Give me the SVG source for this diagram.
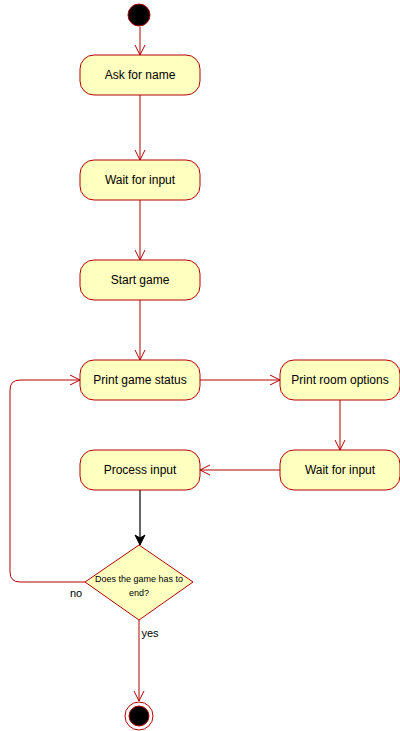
<svg xmlns="http://www.w3.org/2000/svg" width="400" height="731" viewBox="0 0 400 731">
<defs>
<marker id="open" markerWidth="12" markerHeight="12" viewBox="0 0 12 12" refX="11" refY="6" orient="auto" markerUnits="userSpaceOnUse">
<path d="M1,1 L11,6 L1,11" fill="none" stroke="#B20000" stroke-width="1"/>
</marker>
<marker id="solid" markerWidth="12" markerHeight="12" viewBox="0 0 12 12" refX="11" refY="6" orient="auto" markerUnits="userSpaceOnUse">
<path d="M1,1 L11,6 L1,11 L4,6 Z" fill="#000" stroke="#000" stroke-width="1"/>
</marker>
</defs>
<style>
.box{fill:#FFFFC0;stroke:#B20000;stroke-width:1}
.t{font-family:"Liberation Sans",Arial,sans-serif;font-size:12px;fill:#000;text-anchor:middle}
.e{fill:none;stroke:#B20000;stroke-width:1;marker-end:url(#open)}
</style>
<rect width="400" height="731" fill="#fff"/>
<g id="connectors">
<path class="e" d="M140,27 V55"/>
<path class="e" d="M140,95 V160"/>
<path class="e" d="M140,200 V260"/>
<path class="e" d="M140,300 V360"/>
<path class="e" d="M200,380 H280"/>
<path class="e" d="M340,400 V450"/>
<path class="e" d="M280,470 H200"/>
<path d="M140,490 V545" fill="none" stroke="#000" stroke-width="1.2" marker-end="url(#solid)"/>
<path class="e" d="M85,582 H20 Q10,582 10,572 V390 Q10,380 20,380 H80"/>
<path class="e" d="M139,620 V701"/>
<text class="t" x="76" y="597" style="font-size:11px">no</text>
<text class="t" x="150" y="637" style="font-size:11px">yes</text>
</g>
<g id="start"><circle cx="139" cy="15" r="11" fill="#000" stroke="#B20000" stroke-width="1"/></g>
<g id="ask"><rect class="box" x="80" y="55" width="120" height="40" rx="14"/><text class="t" x="140" y="79">Ask for name</text></g>
<g id="wait1"><rect class="box" x="80" y="160" width="120" height="40" rx="14"/><text class="t" x="140" y="184">Wait for input</text></g>
<g id="startgame"><rect class="box" x="80" y="260" width="120" height="40" rx="14"/><text class="t" x="140" y="284">Start game</text></g>
<g id="status"><rect class="box" x="80" y="360" width="120" height="40" rx="14"/><text class="t" x="140" y="384">Print game status</text></g>
<g id="room"><rect class="box" x="280" y="360" width="120" height="40" rx="14"/><text class="t" x="340" y="384">Print room options</text></g>
<g id="wait2"><rect class="box" x="280" y="450" width="120" height="40" rx="14"/><text class="t" x="340" y="474">Wait for input</text></g>
<g id="process"><rect class="box" x="80" y="450" width="120" height="40" rx="14"/><text class="t" x="140" y="474">Process input</text></g>
<g id="decision"><path class="box" d="M139,545 L193,582 L139,620 L85,582 Z"/><text class="t" x="139" y="582" style="font-size:9px">Does the game has to</text><text class="t" x="139" y="596" style="font-size:9px">end?</text></g>
<g id="end"><circle cx="139" cy="716" r="14" fill="#fff" stroke="#B20000" stroke-width="1"/><circle cx="139" cy="716" r="10" fill="#000" stroke="#B20000" stroke-width="1"/></g>
</svg>
